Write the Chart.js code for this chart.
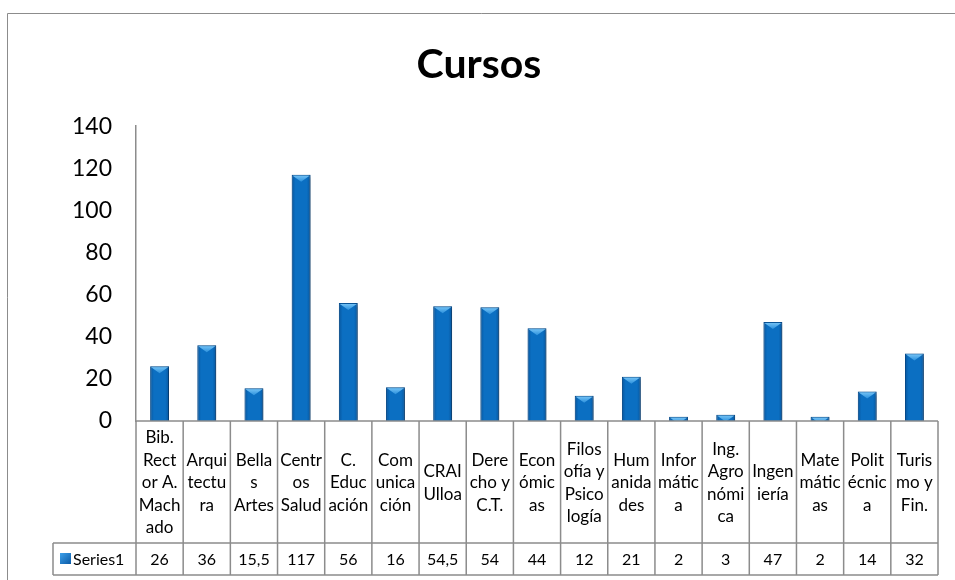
<!DOCTYPE html>
<html>
<head>
<meta charset="utf-8">
<script src="https://cdn.jsdelivr.net/npm/chart.js@4"></script>
<style>
  html, body { margin: 0; padding: 0; background: #fff; }
  #wrap { width: 955px; height: 580px; }
</style>
</head>
<body>
<div id="wrap"><canvas id="cursosChart" width="955" height="580"></canvas></div>
<script>
// category names as they wrap inside the data table cells
const categories = [
  ["Bib.", "Rect", "or A.", "Mach", "ado"],
  ["Arqui", "tectu", "ra"],
  ["Bella", "s", "Artes"],
  ["Centr", "os", "Salud"],
  ["C.", "Educ", "ación"],
  ["Com", "unica", "ción"],
  ["CRAI", "Ulloa"],
  ["Dere", "cho y", "C.T."],
  ["Econ", "ómic", "as"],
  ["Filos", "ofía y", "Psico", "logía"],
  ["Hum", "anida", "des"],
  ["Infor", "mátic", "a"],
  ["Ing.", "Agro", "nómi", "ca"],
  ["Ingen", "iería"],
  ["Mate", "mátic", "as"],
  ["Polit", "écnic", "a"],
  ["Turis", "mo y", "Fin."]
];
const series1 = [26, 36, 15.5, 117, 56, 16, 54.5, 54, 44, 12, 21, 2, 3, 47, 2, 14, 32];
const seriesName = "Series1";
const chartTitle = "Cursos";

const FONT = "Lato, 'Open Sans', sans-serif";
const LINE = "#8c8c8c";

function fmt(v) {
  return String(v).replace(".", ",");
}

// outer frame of the chart (only top and left edges are visible)
const framePlugin = {
  id: "frame",
  beforeDraw(chart) {
    const c = chart.ctx;
    c.save();
    c.fillStyle = "#fff";
    c.fillRect(0, 0, chart.width, chart.height);
    c.strokeStyle = "#8c8c8c";
    c.lineWidth = 1;
    c.beginPath();
    c.moveTo(7.5, chart.height + 5);
    c.lineTo(7.5, 13.5);
    c.lineTo(chart.width + 5, 13.5);
    c.stroke();
    c.restore();
  }
};

// shadow + bevelled top for bars
const barLookPlugin = {
  id: "barLook",
  beforeDatasetDraw(chart) {
    const c = chart.ctx;
    c.save();
    c.shadowColor = "rgba(0,0,0,0.35)";
    c.shadowBlur = 4;
    c.shadowOffsetX = 2;
    c.shadowOffsetY = 1;
  },
  afterDatasetDraw(chart, args) {
    const c = chart.ctx;
    c.restore();
    args.meta.data.forEach(bar => {
      const { x, y, base, width } = bar.getProps(["x", "y", "base", "width"], true);
      const l = x - width / 2, r = x + width / 2;
      c.save();
      c.beginPath();
      c.rect(l, y, width, base - y);
      c.clip();
      // darker edges
      const side = c.createLinearGradient(l, 0, r, 0);
      side.addColorStop(0, "rgba(0,40,90,0.35)");
      side.addColorStop(0.2, "rgba(0,40,90,0)");
      side.addColorStop(0.8, "rgba(0,40,90,0)");
      side.addColorStop(1, "rgba(0,40,90,0.35)");
      c.fillStyle = side;
      c.fillRect(l, y, width, base - y);
      // light triangle on top
      const tri = c.createLinearGradient(0, y, 0, y + 7);
      tri.addColorStop(0, "#7cc8f8");
      tri.addColorStop(1, "#2b90dc");
      c.fillStyle = tri;
      c.beginPath();
      c.moveTo(l + 1, y + 1);
      c.lineTo(r - 1, y + 1);
      c.lineTo(x, y + 7);
      c.closePath();
      c.fill();
      c.restore();
    });
  }
};

// data table under the plot
const dataTablePlugin = {
  id: "dataTable",
  afterDraw(chart) {
    const c = chart.ctx;
    const xs = chart.scales.x;
    const area = chart.chartArea;
    const n = categories.length;
    const colW = (area.right - area.left) / n;
    const top = area.bottom;
    const rowSplit = 543;
    const bottom = 575;
    const legendLeft = 53;

    c.save();
    c.strokeStyle = LINE;
    c.lineWidth = 1.5;
    c.beginPath();
    c.moveTo(area.left, top);
    c.lineTo(area.right, top);
    c.moveTo(legendLeft, rowSplit);
    c.lineTo(area.right, rowSplit);
    c.moveTo(legendLeft, bottom);
    c.lineTo(area.right, bottom);
    c.moveTo(legendLeft, rowSplit);
    c.lineTo(legendLeft, bottom);
    for (let i = 0; i <= n; i++) {
      const bx = (i < n ? xs.getPixelForValue(i) : xs.getPixelForValue(n - 1) + colW) - colW / 2;
      c.moveTo(bx, top);
      c.lineTo(bx, bottom);
    }
    c.stroke();

    c.fillStyle = "#000";
    c.textAlign = "center";
    c.textBaseline = "middle";
    c.font = "17px " + FONT;
    const lh = 22.5;
    const midLabels = (top + rowSplit) / 2 + 1;
    categories.forEach((lines, i) => {
      const cx = xs.getPixelForValue(i);
      const y0 = midLabels - (lines.length - 1) * lh / 2;
      lines.forEach((t, j) => c.fillText(t, cx, y0 + j * lh));
    });

    const midVals = (rowSplit + bottom) / 2 + 1;
    c.font = "16px " + FONT;
    series1.forEach((v, i) => {
      c.fillText(fmt(v), xs.getPixelForValue(i), midVals);
    });

    // legend key
    const key = c.createLinearGradient(60, 553, 71, 564);
    key.addColorStop(0, "#3da0ea");
    key.addColorStop(1, "#0a5aa6");
    c.fillStyle = key;
    c.fillRect(60, 553, 11, 11);
    c.fillStyle = "#000";
    c.textAlign = "left";
    c.fillText(seriesName, 73, midVals);
    c.restore();
  }
};

const ctx = document.getElementById("cursosChart").getContext("2d");
const chart = new Chart(ctx, {
  type: "bar",
  data: {
    labels: categories,
    datasets: [{
      label: seriesName,
      data: series1,
      backgroundColor: "#0b6fc2",
      borderColor: "#0a5ca4",
      borderWidth: 1,
      barPercentage: 0.4,
      categoryPercentage: 1
    }]
  },
  options: {
    responsive: false,
    animation: false,
    devicePixelRatio: 1,
    layout: { padding: { top: 13, left: 20, right: 17, bottom: 159 } },
    plugins: {
      legend: { display: false },
      tooltip: { enabled: false },
      title: {
        display: true,
        text: chartTitle,
        color: "#000",
        font: { family: FONT, size: 41, weight: "bold" },
        padding: { top: 27, bottom: 37 }
      }
    },
    scales: {
      x: { display: false },
      y: {
        min: 0,
        max: 140,
        afterFit: s => { s.width = 116; },
        ticks: {
          stepSize: 20,
          padding: 16,
          color: "#000",
          font: { family: FONT, size: 23 }
        },
        grid: { display: false },
        border: { display: true, color: LINE, width: 1.5 }
      }
    }
  },
  plugins: [framePlugin, barLookPlugin, dataTablePlugin]
});
</script>
</body>
</html>
